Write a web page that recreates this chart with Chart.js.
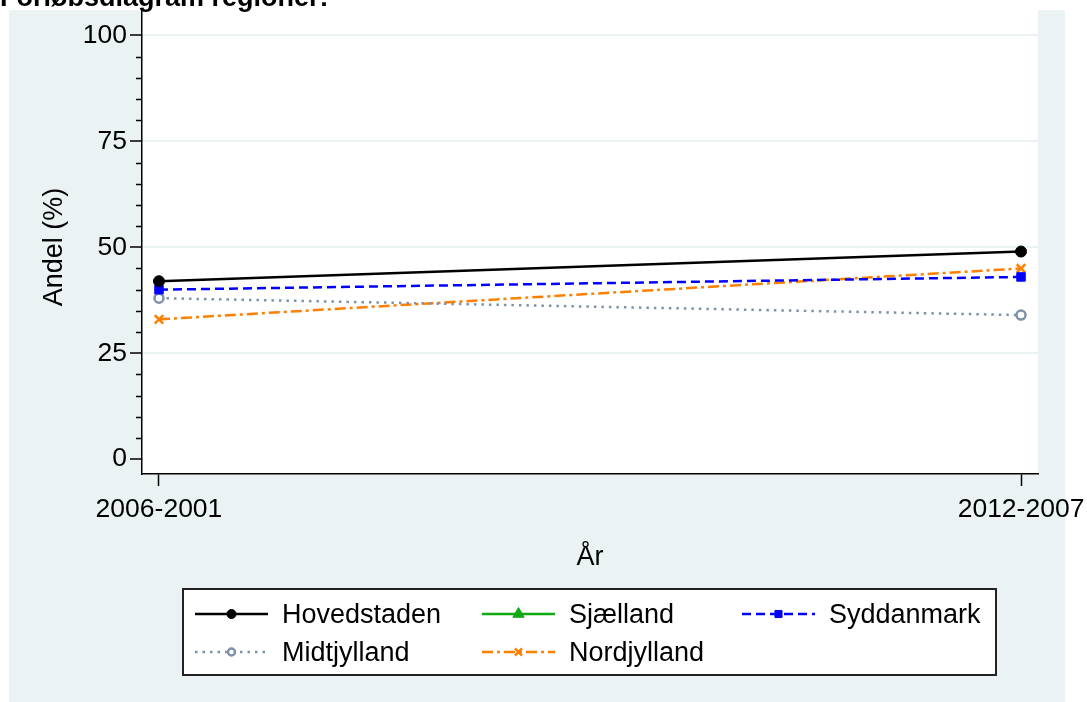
<!DOCTYPE html>
<html>
<head>
<meta charset="utf-8">
<script src="https://cdn.jsdelivr.net/npm/chart.js@4/dist/chart.umd.min.js"></script>
<style>
  html, body { margin: 0; padding: 0; background: #fff; }
  #wrap { width: 1087px; height: 702px; position: relative; }
</style>
</head>
<body>
<div id="wrap"><canvas id="chart" width="1087" height="702"></canvas></div>
<script>
const FONT = "'Liberation Sans', Arial, Helvetica, sans-serif";
const TITLE = "Forløbsdiagram regioner:";
const X_TITLE = "År";
const Y_TITLE = "Andel (%)";

// periods on the x axis
const periods = ["2006-2001", "2012-2007"];
const yTicks = [0, 25, 50, 75, 100];

// share (%) per region
const hovedstaden = [42, 49];
const sjaelland = [null, null];
const syddanmark = [40, 43];
const midtjylland = [38, 34];
const nordjylland = [33, 45];

const BG = "#eaf2f3";

function points(values) {
  return values.map(function (v, i) {
    return { x: i, y: v };
  });
}

var datasets = [
  {
    label: "Hovedstaden",
    data: points(hovedstaden),
    borderColor: "#000000",
    backgroundColor: "#000000",
    borderWidth: 2.5,
    borderDash: [],
    pointStyle: "circle",
    pointRadius: 5.5,
    pointBorderWidth: 1,
    legendRadius: 4.5,
  },
  {
    label: "Sjælland",
    data: points(sjaelland),
    borderColor: "#12a812",
    backgroundColor: "#12a812",
    borderWidth: 2.5,
    borderDash: [],
    pointStyle: "triangle",
    pointRadius: 5,
    pointBorderWidth: 1,
    legendRadius: 6.5,
  },
  {
    label: "Syddanmark",
    data: points(syddanmark),
    borderColor: "#0000ff",
    backgroundColor: "#0000ff",
    borderWidth: 2.5,
    borderDash: [9, 5],
    pointStyle: "rect",
    pointRadius: 6,
    pointBorderWidth: 1,
    legendRadius: 5,
  },
  {
    label: "Midtjylland",
    data: points(midtjylland),
    borderColor: "#7f92a9",
    backgroundColor: "#ffffff",
    borderWidth: 2.5,
    borderDash: [2.5, 5],
    pointStyle: "circle",
    pointRadius: 4.5,
    pointBorderWidth: 2.5,
    legendRadius: 3.5,
  },
  {
    label: "Nordjylland",
    data: points(nordjylland),
    borderColor: "#ff7f00",
    backgroundColor: "#ff7f00",
    borderWidth: 2.5,
    borderDash: [11, 4, 3, 4],
    pointStyle: "crossRot",
    pointRadius: 6,
    pointBorderWidth: 2.5,
    legendRadius: 5,
  },
];

datasets.forEach(function (ds) {
  ds.pointBackgroundColor = ds.backgroundColor;
  ds.pointBorderColor = ds.borderColor;
  ds.tension = 0;
  ds.fill = false;
});

// background, minor ticks, titles and the boxed legend
const decor = {
  id: "decor",
  beforeDraw(chart) {
    const ctx = chart.ctx;
    const a = chart.chartArea;
    ctx.save();
    ctx.fillStyle = "#ffffff";
    ctx.fillRect(0, 0, chart.width, chart.height);
    ctx.fillStyle = BG;
    ctx.fillRect(9, 10, 1056, chart.height - 10);
    ctx.fillStyle = "#ffffff";
    ctx.fillRect(a.left, a.top, a.right - a.left, a.bottom - a.top);
    ctx.restore();
  },
  afterDraw(chart) {
    const ctx = chart.ctx;
    const a = chart.chartArea;
    const ys = chart.scales.y;
    ctx.save();

    // minor y ticks
    ctx.strokeStyle = "#000";
    ctx.lineWidth = 1.5;
    for (let v = 5; v <= 100; v += 5) {
      if (v % 25 === 0) continue;
      const py = Math.round(ys.getPixelForValue(v)) + 0.5;
      ctx.beginPath();
      ctx.moveTo(a.left - 6, py);
      ctx.lineTo(a.left, py);
      ctx.stroke();
    }

    // chart title (cut off at top)
    ctx.fillStyle = "#000";
    ctx.font = "bold 27px " + FONT;
    ctx.textAlign = "left";
    ctx.textBaseline = "alphabetic";
    ctx.fillText(TITLE, 0, 6);

    // axis titles
    ctx.font = "27px " + FONT;
    ctx.textAlign = "center";
    ctx.textBaseline = "middle";
    ctx.fillText(X_TITLE, (a.left + a.right) / 2, 558);
    ctx.save();
    ctx.translate(55, (a.top + a.bottom) / 2 + 5);
    ctx.rotate(-Math.PI / 2);
    ctx.fillText(Y_TITLE, 0, 0);
    ctx.restore();

    // legend box
    ctx.fillStyle = "#ffffff";
    ctx.fillRect(183, 589, 813, 86);
    ctx.strokeStyle = "#222";
    ctx.lineWidth = 2;
    ctx.strokeRect(183, 589, 813, 86);

    const colX = [195, 482, 742];
    const rowY = [614, 652];
    const sampleLen = 73;
    chart.data.datasets.forEach(function (ds, i) {
      const cx = colX[i % 3];
      const cy = rowY[Math.floor(i / 3)];
      ctx.save();
      ctx.strokeStyle = ds.borderColor;
      ctx.lineWidth = 2.5;
      ctx.setLineDash(ds.borderDash);
      ctx.beginPath();
      ctx.moveTo(cx, cy);
      ctx.lineTo(cx + sampleLen, cy);
      ctx.stroke();
      ctx.setLineDash([]);
      ctx.fillStyle = ds.backgroundColor;
      ctx.strokeStyle = ds.borderColor;
      ctx.lineWidth = ds.pointBorderWidth;
      Chart.helpers.drawPoint(ctx, {
        pointStyle: ds.pointStyle,
        radius: ds.legendRadius,
        borderWidth: ds.pointBorderWidth,
        rotation: 0,
      }, cx + sampleLen / 2, cy);
      ctx.restore();

      ctx.fillStyle = "#000";
      ctx.font = "27px " + FONT;
      ctx.textAlign = "left";
      ctx.textBaseline = "middle";
      ctx.fillText(ds.label, cx + 87, cy + 2);
    });

    ctx.restore();
  },
};

const config = {
  type: "line",
  data: { datasets: datasets },
  options: {
    responsive: false,
    animation: false,
    layout: { padding: { top: 10, right: 49, left: 0, bottom: 0 } },
    plugins: {
      legend: { display: false },
      title: { display: false },
      tooltip: { enabled: false },
    },
    scales: {
      x: {
        type: "linear",
        min: -0.0197,
        max: 1.0197,
        afterBuildTicks: function (scale) {
          scale.ticks = periods.map(function (p, i) { return { value: i }; });
        },
        afterFit: function (scale) {
          scale.height = 228;
          scale.paddingLeft = 0;
          scale.paddingRight = 0;
        },
        ticks: {
          callback: function (v) { return periods[v]; },
          font: { family: FONT, size: 26.5 },
          color: "#000",
          padding: 8,
          maxRotation: 0,
          autoSkip: false,
        },
        grid: {
          drawOnChartArea: false,
          drawTicks: true,
          tickLength: 12,
          tickColor: "#000",
          tickWidth: 1.5,
        },
        border: { display: true, color: "#000", width: 1.5 },
      },
      y: {
        min: -3.5,
        max: 106,
        afterBuildTicks: function (scale) {
          scale.ticks = yTicks.map(function (v) { return { value: v }; });
        },
        afterFit: function (scale) {
          scale.width = 142;
          scale.paddingTop = 0;
          scale.paddingBottom = 0;
        },
        ticks: {
          font: { family: FONT, size: 26.5 },
          color: "#000",
          padding: 3,
        },
        grid: {
          color: function (c) {
            return c.tick && c.tick.value > 0 ? BG : "rgba(0,0,0,0)";
          },
          lineWidth: 2,
          drawTicks: true,
          tickLength: 12,
          tickColor: "#000",
          tickWidth: 1.5,
        },
        border: { display: true, color: "#000", width: 1.5 },
      },
    },
  },
  plugins: [decor],
};

new Chart(document.getElementById("chart"), config);
</script>
</body>
</html>
